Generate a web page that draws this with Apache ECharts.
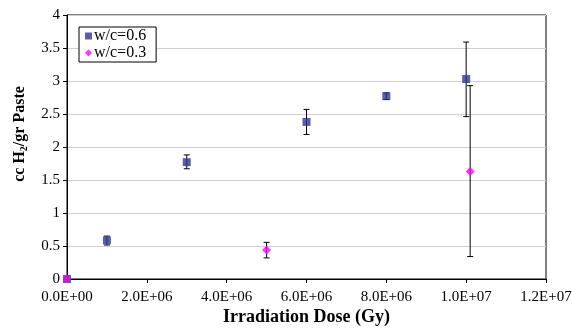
<!DOCTYPE html>
<html><head><meta charset="utf-8">
<script src="https://cdn.jsdelivr.net/npm/echarts@6/dist/echarts.min.js"></script>
<style>html,body{margin:0;padding:0;background:#fff}#c{width:572px;height:328px}</style>
</head><body><div id="c"></div>
<script>
// w/c=0.6 series: [dose, value, errLow, errHigh]
const dose06 = [0, 1e6, 3e6, 6e6, 8e6, 1e7];
const val06 = [0, 0.585, 1.77, 2.38, 2.77, 3.03];
const low06 = [0, 0.515, 1.67, 2.19, 2.72, 2.46];
const high06 = [0, 0.65, 1.88, 2.57, 2.82, 3.59];
// w/c=0.3 series
const dose03 = [0, 5e6, 1.01e7];
const val03 = [0, 0.44, 1.63];
const low03 = [0, 0.32, 0.34];
const high03 = [0, 0.555, 2.93];
const xTicks = [0, 2e6, 4e6, 6e6, 8e6, 1e7, 1.2e7];
const yTicks = [0, 0.5, 1, 1.5, 2, 2.5, 3, 3.5, 4];

const font = '"Liberation Serif", "Times New Roman", serif';
function fmtX(v){
  let s = v.toExponential(1).toUpperCase();
  return s.replace(/E([+-])(\d)$/, 'E$10$2');
}
function errData(d, lo, hi){
  return d.map((x,i)=>[x, lo[i], hi[i]]).filter(r=>r[1]!==r[2]);
}
function errRender(params, api){
  const x = api.value(0);
  const p1 = api.coord([x, api.value(1)]);
  const p2 = api.coord([x, api.value(2)]);
  const w = 3;
  const st = {stroke:'#000', lineWidth:1};
  return {type:'group', children:[
    {type:'line', shape:{x1:p1[0],y1:p1[1],x2:p2[0],y2:p2[1]}, style:st},
    {type:'line', shape:{x1:p1[0]-w,y1:p1[1],x2:p1[0]+w,y2:p1[1]}, style:st},
    {type:'line', shape:{x1:p2[0]-w,y1:p2[1],x2:p2[0]+w,y2:p2[1]}, style:st}
  ]};
}
const chart = echarts.init(document.getElementById('c'));
chart.setOption({
  backgroundColor:'#fff',
  animation:false,
  grid:{left:67, right:26, top:15, bottom:49, containLabel:false, outerBoundsMode:'none',
    show:true, borderColor:'#000', borderWidth:1},
  legend:{
    left:79, top:27, orient:'vertical', itemGap:1, itemWidth:7, itemHeight:7,
    borderColor:'#000', borderWidth:1, padding:[1,10,1,6], backgroundColor:'#fff',
    textStyle:{fontFamily:font, fontSize:16, color:'#000', padding:[0,0,0,-3]},
    data:[{name:'w/c=0.6', icon:'rect'},{name:'w/c=0.3', icon:'diamond'}]
  },
  xAxis:{
    type:'value', min:0, max:1.2e7, interval:2e6,
    axisLine:{lineStyle:{color:'#000'}},
    axisTick:{show:true, length:4, lineStyle:{color:'#000'}},
    splitLine:{show:false},
    axisLabel:{fontFamily:font, fontSize:15, color:'#000', formatter:fmtX, margin:11},
    name:'Irradiation Dose (Gy)', nameLocation:'middle', nameGap:29, nameMoveOverlap:false,
    nameTextStyle:{fontFamily:font, fontSize:18, fontWeight:'bold', color:'#000'}
  },
  yAxis:{
    type:'value', min:0, max:4, interval:0.5,
    axisLine:{show:true, lineStyle:{color:'#000'}},
    axisTick:{show:true, length:4, lineStyle:{color:'#000'}},
    splitLine:{show:true, lineStyle:{color:'#d0d0d0'}},
    axisLabel:{fontFamily:font, fontSize:15, color:'#000', margin:7}
  },
  graphic:[{
    type:'text', x:20, y:134, rotation:Math.PI/2, z:10,
    style:{
      text:'{a|cc H}{s|2}{a|/gr Paste}', align:'center', verticalAlign:'middle',
      fill:'#000',
      rich:{a:{fontFamily:font, fontSize:16, fontWeight:'bold', fill:'#000'},
            s:{fontFamily:font, fontSize:10, fontWeight:'bold', fill:'#000', padding:[8,0,0,0]}}
    }
  }],
  series:[
    {type:'custom', renderItem:errRender, data:errData(dose06, low06, high06), z:1, silent:true},
    {type:'custom', renderItem:errRender, data:errData(dose03, low03, high03), z:1, silent:true},
    {name:'w/c=0.6', type:'scatter', symbol:'rect', symbolSize:8, itemStyle:{color:'#333399'},
      data:dose06.map((x,i)=>[x,val06[i]]), z:3},
    {name:'w/c=0.3', type:'scatter', symbol:'diamond', symbolSize:9, itemStyle:{color:'#ff00ff'},
      data:dose03.map((x,i)=>[x,val03[i]]), z:4}
  ]
});
</script></body></html>
